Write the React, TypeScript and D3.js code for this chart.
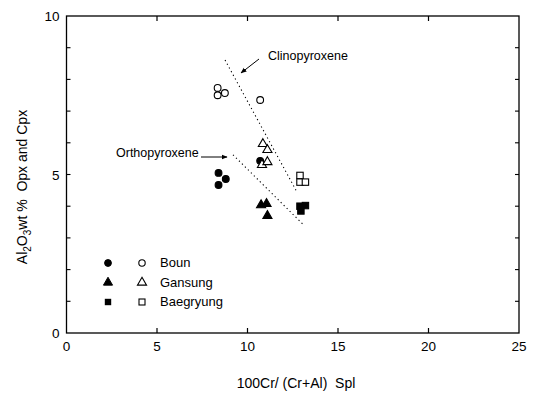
import React from "react";
import * as d3 from "d3";

const bounOpen = [[8.35, 7.73], [8.35, 7.5], [8.75, 7.57], [10.7, 7.35]];
const bounFilled = [[8.4, 5.05], [8.4, 4.67], [8.8, 4.86], [10.7, 5.43]];
const gansungOpen = [[10.85, 5.99], [11.1, 5.8], [10.8, 5.33], [11.1, 5.42]];
const gansungFilled = [[10.75, 4.06], [11.05, 4.1], [11.1, 3.72]];
const baegOpen = [[12.9, 4.97], [12.9, 4.76], [13.2, 4.76]];
const baegFilled = [[12.9, 4.0], [13.2, 4.02], [12.95, 3.85]];
const cpxLine = [[8.76, 8.61], [12.73, 4.45]];
const opxLine = [[9.2, 5.62], [13.1, 3.41]];
const xTicks = [0, 5, 10, 15, 20, 25];
const yTicks = [0, 5, 10];
const yMinor = d3.range(0, 11);
const legendItems = ["Boun", "Gansung", "Baegryung"];

const FONT = "'Liberation Sans', Arial, Helvetica, sans-serif";

export default function App() {
  const x = d3.scaleLinear().domain([0, 25]).range([66.5, 519]);
  const y = d3.scaleLinear().domain([0, 10]).range([333, 16]);
  const line = d3.line<number[]>().x((d) => x(d[0])).y((d) => y(d[1]));
  const tri = d3.symbol().type(d3.symbolTriangle).size(36)() as string;

  const circle = (d: number[], filled: boolean, k: string) => (
    <circle key={k} cx={x(d[0])} cy={y(d[1])} r={3.4} fill={filled ? "#000" : "#fff"} stroke="#000" strokeWidth={1.1} />
  );
  const triangle = (d: number[], filled: boolean, k: string) => (
    <path key={k} d={tri} transform={`translate(${x(d[0])},${y(d[1]) + 0.8})`} fill={filled ? "#000" : "#fff"} stroke="#000" strokeWidth={1.1} />
  );
  const square = (d: number[], filled: boolean, k: string) => (
    <rect key={k} x={x(d[0]) - 3.2} y={y(d[1]) - 3.2} width={6.4} height={6.4} fill={filled ? "#000" : "#fff"} stroke="#000" strokeWidth={1.1} />
  );

  const x0 = x(0), x1 = x(25), y0 = y(0), y1 = y(10);

  return (
    <div style={{ position: "absolute", left: 0, top: 0 }}>
      <svg width={536} height={393} style={{ display: "block", background: "#fff", whiteSpace: "pre" }} fontFamily={FONT}>
        <defs>
          <marker id="ah" viewBox="0 0 10 10" refX="9" refY="5" markerWidth="6" markerHeight="6" orient="auto">
            <path d="M0,1 L10,5 L0,9 z" fill="#000" />
          </marker>
        </defs>
        <rect x={x0} y={y1} width={x1 - x0} height={y0 - y1} fill="none" stroke="#000" strokeWidth={1.3} />
        {xTicks.slice(1, -1).map((t) => (
          <g key={"xt" + t}>
            <line x1={x(t)} x2={x(t)} y1={y0} y2={y0 - 5} stroke="#000" strokeWidth={1.2} />
            <line x1={x(t)} x2={x(t)} y1={y1} y2={y1 + 5} stroke="#000" strokeWidth={1.2} />
          </g>
        ))}
        {xTicks.map((t) => (
          <text key={"xl" + t} x={x(t)} y={y0 + 18} fontSize={13.5} textAnchor="middle">{t}</text>
        ))}
        {yMinor.slice(1, -1).map((t) => (
          <g key={"yt" + t}>
            <line x1={x0} x2={x0 + 4} y1={y(t)} y2={y(t)} stroke="#000" strokeWidth={1.1} />
            <line x1={x1} x2={x1 - 4} y1={y(t)} y2={y(t)} stroke="#000" strokeWidth={1.1} />
          </g>
        ))}
        {yTicks.map((t) => (
          <text key={"yl" + t} x={x0 - 7} y={y(t) + 5} fontSize={13.5} textAnchor="end">{t}</text>
        ))}
        <text x={296} y={388} fontSize={14} textAnchor="middle">{"100Cr/ (Cr+Al)\u00a0\u00a0Spl"}</text>
        <text transform="translate(27,187) rotate(-90)" fontSize={14} textAnchor="middle">
          Al<tspan fontSize={10} dy={4}>2</tspan><tspan dy={-4}>O</tspan><tspan fontSize={10} dy={4}>3</tspan><tspan dy={-4}>{"wt %\u00a0\u00a0Opx and Cpx"}</tspan>
        </text>

        <path d={line(cpxLine as any) as string} fill="none" stroke="#000" strokeWidth={1.1} strokeDasharray="1.2,3" />
        <path d={line(opxLine as any) as string} fill="none" stroke="#000" strokeWidth={1.1} strokeDasharray="1.2,3" />

        <text x={268} y={60} fontSize={12.5}>Clinopyroxene</text>
        <line x1={259} y1={59} x2={241} y2={73} stroke="#000" strokeWidth={1} markerEnd="url(#ah)" />
        <text x={116} y={157} fontSize={12.5}>Orthopyroxene</text>
        <line x1={201} y1={157} x2={227} y2={157} stroke="#000" strokeWidth={1} markerEnd="url(#ah)" />

        {bounOpen.map((d, i) => circle(d, false, "bo" + i))}
        {bounFilled.map((d, i) => circle(d, true, "bf" + i))}
        {gansungOpen.map((d, i) => triangle(d, false, "go" + i))}
        {gansungFilled.map((d, i) => triangle(d, true, "gf" + i))}
        {baegOpen.map((d, i) => square(d, false, "so" + i))}
        {baegFilled.map((d, i) => square(d, true, "sf" + i))}

        {legendItems.map((name, i) => {
          const ly = 263 + i * 19.5;
          const fx = 108, ox = 142;
          let filledM, openM;
          if (i === 0) {
            filledM = <circle cx={fx} cy={ly} r={3.4} fill="#000" stroke="#000" />;
            openM = <circle cx={ox} cy={ly} r={3.2} fill="#fff" stroke="#000" strokeWidth={1.1} />;
          } else if (i === 1) {
            filledM = <path d={tri} transform={`translate(${fx},${ly})`} fill="#000" stroke="#000" />;
            openM = <path d={tri} transform={`translate(${ox},${ly})`} fill="#fff" stroke="#000" strokeWidth={1.1} />;
          } else {
            filledM = <rect x={fx - 3.2} y={ly - 3.2} width={6.4} height={6.4} fill="#000" />;
            openM = <rect x={ox - 3} y={ly - 3} width={6} height={6} fill="#fff" stroke="#000" strokeWidth={1.1} />;
          }
          return (
            <g key={name}>
              {filledM}
              {openM}
              <text x={160} y={ly + 4} fontSize={13}>{name}</text>
            </g>
          );
        })}
      </svg>
    </div>
  );
}
